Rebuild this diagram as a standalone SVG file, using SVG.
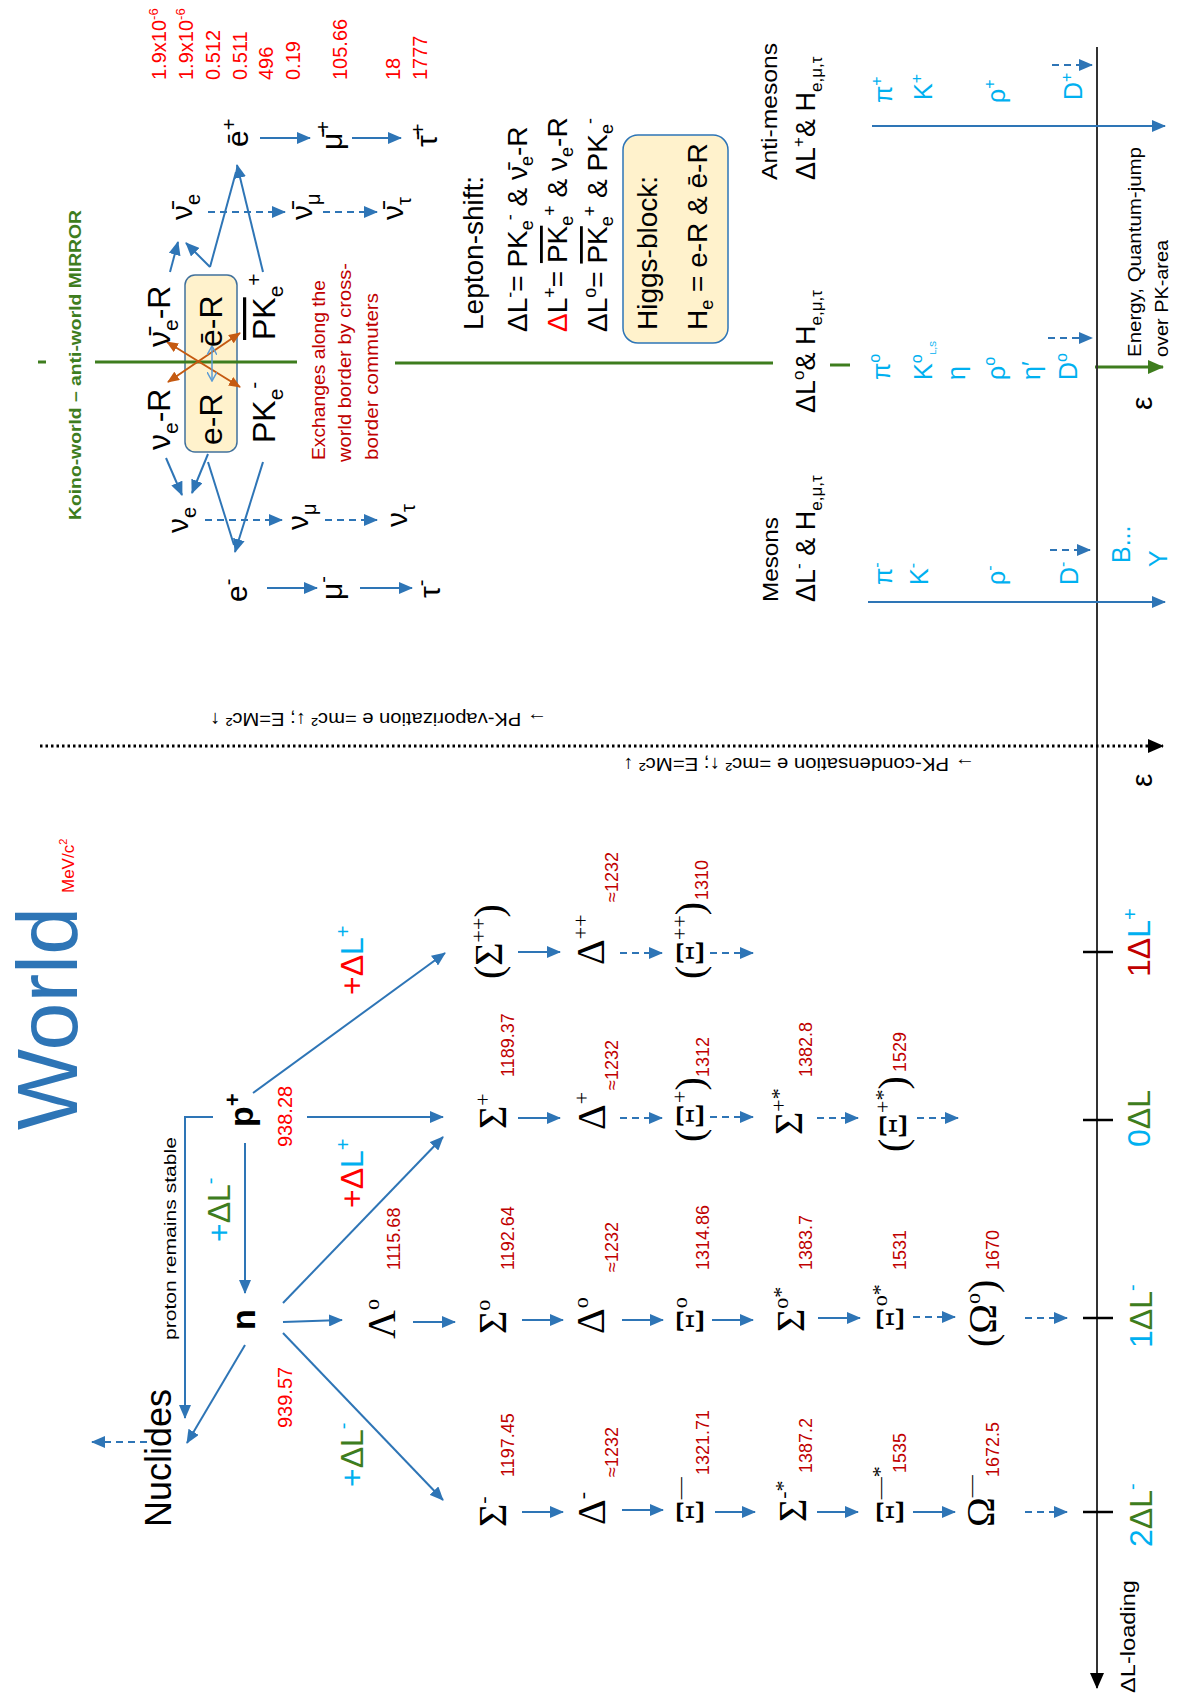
<svg xmlns="http://www.w3.org/2000/svg" width="1179" height="1699" viewBox="0 0 1179 1699">
<defs>
<marker id="ab" markerUnits="userSpaceOnUse" markerWidth="14" markerHeight="12" refX="13" refY="6" orient="auto"><path d="M0,0 L14,6 L0,12 z" fill="#2E75B6"/></marker>
<marker id="ag" markerUnits="userSpaceOnUse" markerWidth="16" markerHeight="14" refX="15" refY="7" orient="auto"><path d="M0,0 L16,7 L0,14 z" fill="#3E7D1E"/></marker>
<marker id="ak" markerUnits="userSpaceOnUse" markerWidth="16" markerHeight="14" refX="15" refY="7" orient="auto"><path d="M0,0 L16,7 L0,14 z" fill="#000"/></marker>
<marker id="ao" markerUnits="userSpaceOnUse" markerWidth="12" markerHeight="10" refX="11" refY="5" orient="auto-start-reverse"><path d="M0,0 L12,5 L0,10 z" fill="#C55A11"/></marker>
<marker id="ac" markerUnits="userSpaceOnUse" markerWidth="10" markerHeight="10" refX="9" refY="5" orient="auto-start-reverse"><path d="M0,0 L9,5 L0,10" fill="none" stroke="#5B9BD5" stroke-width="1.5"/></marker>
</defs>
<style>
text{font-family:"Liberation Sans",Arial,sans-serif}
.sf{font-family:"Liberation Serif","DejaVu Serif",serif}
.b{stroke:#2E75B6;stroke-width:2;fill:none;marker-end:url(#ab)}
.bn{stroke:#2E75B6;stroke-width:2;fill:none}
.d{stroke-dasharray:7 5}
.rm{fill:#C00000;font-size:18px}
.tm{fill:#FF0000;font-size:20px}
.cy{fill:#00B0F0}
.gr{fill:#3E7D1E}
.box{fill:#FFF2CC;stroke:#41719C;stroke-width:1.5}
.tick{stroke:#000;stroke-width:2.5}
</style>
<rect width="1179" height="1699" fill="#fff"/>

<!-- boxes (background) -->
<rect id="eR-box" class="box" x="185" y="275" width="52" height="177" rx="10"/>
<rect id="higgs-box" class="box" x="623" y="135" width="105" height="208" rx="15" style="stroke:#2E75B6"/>

<!-- connectors -->
<g id="connectors">
 <g stroke="#3E7D1E" stroke-width="3" fill="none">
  <line x1="38" y1="362" x2="46" y2="362"/>
  <line x1="95" y1="362" x2="297" y2="362"/>
  <line x1="395" y1="363" x2="773" y2="363"/>
  <line x1="830" y1="365" x2="850" y2="365"/>
  <line x1="1095" y1="367" x2="1163" y2="367" marker-end="url(#ag)"/>
 </g>
 <line x1="1097" y1="47" x2="1097" y2="1688" stroke="#333" stroke-width="2" marker-end="url(#ak)"/>
 <line x1="40" y1="746" x2="1163" y2="746" stroke="#000" stroke-width="3" stroke-dasharray="2.5 3" marker-end="url(#ak)"/>
 <line class="tick" x1="1083" y1="952" x2="1113" y2="952"/>
 <line class="tick" x1="1083" y1="1120" x2="1113" y2="1120"/>
 <line class="tick" x1="1083" y1="1318" x2="1113" y2="1318"/>
 <line class="tick" x1="1083" y1="1512" x2="1113" y2="1512"/>
 <line class="b" x1="260" y1="138" x2="310" y2="138"/>
 <line class="b" x1="352" y1="138" x2="401" y2="138"/>
 <line class="b d" x1="208" y1="212" x2="285" y2="212"/>
 <line class="b d" x1="323" y1="212" x2="377" y2="212"/>
 <line class="b" x1="170" y1="272" x2="178" y2="242"/>
 <line class="b" x1="210" y1="267" x2="186" y2="243"/>
 <line class="bn" x1="210" y1="267" x2="236" y2="172"/>
 <line class="b" x1="263" y1="272" x2="237" y2="165"/>
 <line class="b" x1="166" y1="458" x2="182" y2="495"/>
 <line class="b" x1="208" y1="454" x2="192" y2="493"/>
 <line class="bn" x1="208" y1="462" x2="234" y2="545"/>
 <line class="b" x1="263" y1="462" x2="235" y2="552"/>
 <line class="b" x1="267" y1="588" x2="317" y2="588"/>
 <line class="b" x1="360" y1="588" x2="412" y2="588"/>
 <line class="b d" x1="205" y1="520" x2="282" y2="520"/>
 <line class="b d" x1="325" y1="520" x2="377" y2="520"/>
 <line x1="167" y1="342" x2="240" y2="387" stroke="#C55A11" stroke-width="2" marker-start="url(#ao)" marker-end="url(#ao)"/>
 <line x1="240" y1="333" x2="168" y2="382" stroke="#C55A11" stroke-width="2" marker-start="url(#ao)" marker-end="url(#ao)"/>
 <line x1="212" y1="346" x2="212" y2="381" stroke="#5B9BD5" stroke-width="1.5" marker-start="url(#ac)" marker-end="url(#ac)"/>
 <line class="b" x1="872" y1="126" x2="1165" y2="126"/>
 <line class="b d" x1="1052" y1="65" x2="1092" y2="65"/>
 <line class="b d" x1="1048" y1="338" x2="1092" y2="338"/>
 <line class="b d" x1="1050" y1="550" x2="1090" y2="550"/>
 <line class="b" x1="868" y1="602" x2="1165" y2="602"/>
 <line class="b" x1="245" y1="1143" x2="245" y2="1293"/>
 <polyline class="b" points="213,1117 185,1117 185,1418"/>
 <line class="b" x1="307" y1="1117" x2="443" y2="1117"/>
 <line class="b" x1="253" y1="1093" x2="445" y2="953"/>
 <line class="b" x1="283" y1="1303" x2="443" y2="1137"/>
 <line class="b" x1="283" y1="1322" x2="342" y2="1320"/>
 <line class="b" x1="245" y1="1345" x2="187" y2="1443"/>
 <line class="b" x1="283" y1="1333" x2="443" y2="1500"/>
 <line class="b d" x1="147" y1="1442" x2="92" y2="1442"/>
 <line class="b" x1="518" y1="952" x2="560" y2="952"/>
 <line class="b d" x1="620" y1="953" x2="662" y2="953"/>
 <line class="b d" x1="710" y1="953" x2="753" y2="953"/>
 <line class="b" x1="518" y1="1118" x2="560" y2="1118"/>
 <line class="b d" x1="620" y1="1118" x2="662" y2="1118"/>
 <line class="b d" x1="710" y1="1117" x2="753" y2="1117"/>
 <line class="b d" x1="817" y1="1118" x2="858" y2="1118"/>
 <line class="b d" x1="917" y1="1118" x2="958" y2="1118"/>
 <line class="b" x1="413" y1="1322" x2="455" y2="1322"/>
 <line class="b" x1="522" y1="1320" x2="563" y2="1320"/>
 <line class="b" x1="622" y1="1320" x2="663" y2="1320"/>
 <line class="b" x1="712" y1="1320" x2="753" y2="1320"/>
 <line class="b" x1="818" y1="1318" x2="860" y2="1318"/>
 <line class="b d" x1="913" y1="1317" x2="955" y2="1317"/>
 <line class="b d" x1="1025" y1="1318" x2="1067" y2="1318"/>
 <line class="b" x1="522" y1="1512" x2="563" y2="1512"/>
 <line class="b" x1="622" y1="1510" x2="663" y2="1510"/>
 <line class="b" x1="715" y1="1512" x2="755" y2="1512"/>
 <line class="b" x1="817" y1="1512" x2="858" y2="1512"/>
 <line class="b" x1="913" y1="1512" x2="955" y2="1512"/>
 <line class="b d" x1="1025" y1="1512" x2="1067" y2="1512"/>
</g>

<g id="lepton-masses">
 <text class="tm" transform="translate(166 80) rotate(-90)">1.9x10<tspan dy="-8" font-size="13">-6</tspan></text>
 <text class="tm" transform="translate(193 80) rotate(-90)">1.9x10<tspan dy="-8" font-size="13">-6</tspan></text>
 <text class="tm" transform="translate(220 80) rotate(-90)">0.512</text>
 <text class="tm" transform="translate(247 80) rotate(-90)">0.511</text>
 <text class="tm" transform="translate(273 80) rotate(-90)">496</text>
 <text class="tm" transform="translate(300 80) rotate(-90)">0.19</text>
 <text class="tm" transform="translate(347 80) rotate(-90)">105.66</text>
 <text class="tm" transform="translate(400 80) rotate(-90)">18</text>
 <text class="tm" transform="translate(427 80) rotate(-90)">1777</text>
</g>

<g id="leptons" font-size="30">
 <g id="e-bar"><text transform="translate(248 147) rotate(-90)">ē<tspan dy="-12" font-size="20">+</tspan></text></g>
 <g id="mu-bar"><text transform="translate(342 150) rotate(-90)">μ̄<tspan dy="-12" font-size="20">+</tspan></text></g>
 <g id="tau-bar"><text transform="translate(437 147) rotate(-90)">τ̄<tspan dy="-12" font-size="20">+</tspan></text></g>
 <g id="nue-bar"><text transform="translate(192 220) rotate(-90)">ν̄<tspan dy="8" font-size="20">e</tspan></text></g>
 <g id="numu-bar"><text transform="translate(312 220) rotate(-90)">ν̄<tspan dy="8" font-size="20">μ</tspan></text></g>
 <g id="nutau-bar"><text transform="translate(403 220) rotate(-90)">ν̄<tspan dy="8" font-size="20">τ</tspan></text></g>
 <g id="nue"><text transform="translate(188 533) rotate(-90)">ν<tspan dy="8" font-size="20">e</tspan></text></g>
 <g id="numu"><text transform="translate(308 530) rotate(-90)">ν<tspan dy="8" font-size="20">μ</tspan></text></g>
 <g id="nutau"><text transform="translate(407 527) rotate(-90)">ν<tspan dy="8" font-size="20">τ</tspan></text></g>
 <g id="e-"><text transform="translate(247 602) rotate(-90)">e<tspan dy="-12" font-size="20">-</tspan></text></g>
 <g id="mu-"><text transform="translate(342 600) rotate(-90)">μ<tspan dy="-12" font-size="20">-</tspan></text></g>
 <g id="tau-"><text transform="translate(440 598) rotate(-90)">τ<tspan dy="-12" font-size="20">-</tspan></text></g>
</g>

<g id="border" font-size="32">
 <g id="nue-bar-R"><text transform="translate(170 347) rotate(-90)">ν̄<tspan dy="8" font-size="21">e</tspan><tspan dy="-8">-R</tspan></text></g>
 <g id="nue-R"><text transform="translate(170 450) rotate(-90)">ν<tspan dy="8" font-size="21">e</tspan><tspan dy="-8">-R</tspan></text></g>
 <g id="ebar-R"><text transform="translate(222 347) rotate(-90)">ē-R</text></g>
 <g id="e-R"><text transform="translate(222 445) rotate(-90)">e-R</text></g>
 <g id="PKbar"><text transform="translate(275 340) rotate(-90)"><tspan text-decoration="overline">PK</tspan><tspan dy="8" font-size="21">e</tspan><tspan dy="-22" font-size="21">+</tspan></text></g>
 <g id="PK"><text transform="translate(275 443) rotate(-90)">PK<tspan dy="8" font-size="21">e</tspan><tspan dy="-22" font-size="21">-</tspan></text></g>
</g>

<text transform="translate(81 520) rotate(-90)" font-size="17" font-weight="bold" class="gr" textLength="310" lengthAdjust="spacingAndGlyphs">Koino-world – anti-world MIRROR</text>
<g id="exchanges" font-size="18">
 <text transform="translate(325 460) rotate(-90)" style="fill:#C00000" textLength="180" lengthAdjust="spacingAndGlyphs">Exchanges along the</text>
 <text transform="translate(351 462) rotate(-90)" style="fill:#C00000" textLength="199" lengthAdjust="spacingAndGlyphs">world border by cross-</text>
 <text transform="translate(378 460) rotate(-90)" style="fill:#C00000" textLength="167" lengthAdjust="spacingAndGlyphs">border commuters</text>
</g>

<g id="lepton-shift" font-size="28">
 <text transform="translate(483 330) rotate(-90)">Lepton-shift:</text>
 <text transform="translate(527 332) rotate(-90)">ΔL<tspan dy="-11" font-size="18">-</tspan><tspan dy="11">= PK</tspan><tspan dy="6" font-size="18">e</tspan><tspan dy="-17" font-size="18">-</tspan><tspan dy="11"> &amp; ν̄</tspan><tspan dy="6" font-size="18">e</tspan><tspan dy="-6">-R</tspan></text>
 <text transform="translate(567 332) rotate(-90)"><tspan style="fill:#FF0000">Δ</tspan>L<tspan dy="-11" font-size="18">+</tspan><tspan dy="11">= </tspan><tspan text-decoration="overline">PK</tspan><tspan dy="6" font-size="18">e</tspan><tspan dy="-17" font-size="18">+</tspan><tspan dy="11"> &amp; ν</tspan><tspan dy="6" font-size="18">e</tspan><tspan dy="-6">-R</tspan></text>
 <text transform="translate(607 332) rotate(-90)">ΔL<tspan dy="-11" font-size="18">o</tspan><tspan dy="11">= </tspan><tspan text-decoration="overline">PK</tspan><tspan dy="6" font-size="18">e</tspan><tspan dy="-17" font-size="18">+</tspan><tspan dy="11"> &amp; PK</tspan><tspan dy="6" font-size="18">e</tspan><tspan dy="-17" font-size="18">-</tspan></text>
</g>
<g id="higgs-block" font-size="28">
 <text transform="translate(657 330) rotate(-90)">Higgs-block:</text>
 <text transform="translate(707 330) rotate(-90)">H<tspan dy="6" font-size="18">e</tspan><tspan dy="-6"> = e-R &amp; ē-R</tspan></text>
</g>

<g id="meson-labels" font-size="27">
 <text transform="translate(777 180) rotate(-90)" font-size="22" textLength="137" lengthAdjust="spacingAndGlyphs">Anti-mesons</text>
 <text transform="translate(815 180) rotate(-90)">ΔL<tspan dy="-11" font-size="17">+</tspan><tspan dy="11">&amp; H</tspan><tspan dy="7" font-size="17">e,μ,τ</tspan></text>
 <text transform="translate(815 413) rotate(-90)">ΔL<tspan dy="-11" font-size="17">o</tspan><tspan dy="11">&amp; H</tspan><tspan dy="7" font-size="17">e,μ,τ</tspan></text>
 <text transform="translate(778 602) rotate(-90)" font-size="22" textLength="85" lengthAdjust="spacingAndGlyphs">Mesons</text>
 <text transform="translate(815 602) rotate(-90)">ΔL<tspan dy="-11" font-size="17">-</tspan><tspan dy="11"> &amp; H</tspan><tspan dy="7" font-size="17">e,μ,τ</tspan></text>
</g>
<g id="mesons" font-size="25">
 <text class="cy" transform="translate(892 103) rotate(-90)">π<tspan dy="-10" font-size="16">+</tspan></text>
 <text class="cy" transform="translate(932 100) rotate(-90)">K<tspan dy="-10" font-size="16">+</tspan></text>
 <text class="cy" transform="translate(1005 103) rotate(-90)">ρ<tspan dy="-10" font-size="16">+</tspan></text>
 <text class="cy" transform="translate(1082 100) rotate(-90)">D<tspan dy="-10" font-size="16">+</tspan></text>
 <text class="cy" transform="translate(890 380) rotate(-90)">π<tspan dy="-10" font-size="16">o</tspan></text>
 <text class="cy" transform="translate(932 380) rotate(-90)">K<tspan dy="-10" font-size="16">o</tspan><tspan dy="14" font-size="9">L,S</tspan></text>
 <text class="cy" transform="translate(965 380) rotate(-90)">η</text>
 <text class="cy" transform="translate(1005 380) rotate(-90)">ρ<tspan dy="-10" font-size="16">o</tspan></text>
 <text class="cy" transform="translate(1040 380) rotate(-90)">η′</text>
 <text class="cy" transform="translate(1077 380) rotate(-90)">D<tspan dy="-10" font-size="16">o</tspan></text>
 <text class="cy" transform="translate(892 585) rotate(-90)">π<tspan dy="-10" font-size="16">-</tspan></text>
 <text class="cy" transform="translate(928 585) rotate(-90)">K<tspan dy="-10" font-size="16">-</tspan></text>
 <text class="cy" transform="translate(1005 585) rotate(-90)">ρ<tspan dy="-10" font-size="16">-</tspan></text>
 <text class="cy" transform="translate(1078 585) rotate(-90)">D<tspan dy="-10" font-size="16">-</tspan></text>
 <text class="cy" transform="translate(1130 563) rotate(-90)">B...</text>
 <text class="cy" transform="translate(1167 567) rotate(-90)">Υ</text>
</g>
<g id="energy-axis">
 <text transform="translate(1141 357) rotate(-90)" font-size="19" textLength="210" lengthAdjust="spacingAndGlyphs">Energy, Quantum-jump</text>
 <text transform="translate(1168 357) rotate(-90)" font-size="19" textLength="117" lengthAdjust="spacingAndGlyphs">over PK-area</text>
 <text transform="translate(1152 410) rotate(-90)" font-size="30">ε</text>
 <text transform="translate(1152 787) rotate(-90)" font-size="30">ε</text>
</g>
<text transform="translate(547 713) rotate(180)" font-size="19" textLength="337" lengthAdjust="spacingAndGlyphs">→ PK-vaporization e =mc² ↓; E=Mc² ↑</text>
<text transform="translate(975 758) rotate(180)" font-size="19" textLength="352" lengthAdjust="spacingAndGlyphs">→ PK-condensation e =mc² ↑; E=Mc² ↓</text>

<text transform="translate(77 1130) rotate(-90)" font-size="86" style="fill:#2E75B6">World</text>
<text transform="translate(74 893) rotate(-90)" font-size="17" style="fill:#FF0000">MeV/c<tspan dy="-7" font-size="11">2</tspan></text>
<text transform="translate(176 1340) rotate(-90)" font-size="17" textLength="203" lengthAdjust="spacingAndGlyphs">proton remains stable</text>

<g id="p"><text transform="translate(253 1127) rotate(-90)" font-size="34" font-weight="bold">p<tspan dy="-13" font-size="22">+</tspan></text></g>
<g id="n"><text transform="translate(255 1330) rotate(-90)" font-size="34" font-weight="bold">n</text></g>
<g id="nuclides"><text transform="translate(171 1527) rotate(-90)" font-size="36">Nuclides</text></g>
<text class="tm" transform="translate(292 1147) rotate(-90)">938.28</text>
<text class="tm" transform="translate(292 1428) rotate(-90)">939.57</text>

<g id="dl-labels" font-size="32">
 <text transform="translate(363 995) rotate(-90)"><tspan style="fill:#FF0000">+Δ</tspan><tspan style="fill:#00B0F0">L</tspan><tspan dy="-13" font-size="20" style="fill:#00B0F0">+</tspan></text>
 <text transform="translate(363 1208) rotate(-90)"><tspan style="fill:#FF0000">+Δ</tspan><tspan style="fill:#00B0F0">L</tspan><tspan dy="-13" font-size="20" style="fill:#00B0F0">+</tspan></text>
 <text transform="translate(230 1242) rotate(-90)"><tspan style="fill:#00B0F0">+</tspan><tspan style="fill:#3E7D1E">ΔL</tspan><tspan dy="-13" font-size="20" style="fill:#00B0F0">-</tspan></text>
 <text transform="translate(363 1487) rotate(-90)"><tspan style="fill:#00B0F0">+</tspan><tspan style="fill:#3E7D1E">ΔL</tspan><tspan dy="-13" font-size="20" style="fill:#00B0F0">-</tspan></text>
</g>

<g id="baryons" font-size="40">
 <g id="Lambda0"><text class="sf" transform="translate(395 1339) rotate(-90)">Λ<tspan dy="-16" font-size="22">o</tspan></text></g>
 <g id="Sigma++"><text class="sf" transform="translate(502 979) rotate(-90)">(Σ<tspan dy="-16" font-size="22">++</tspan><tspan dy="16">)</tspan></text></g>
 <g id="Delta++"><text class="sf" transform="translate(604 965) rotate(-90)">Δ<tspan dy="-16" font-size="22">++</tspan></text></g>
 <g id="Xi++"><text class="sf" transform="translate(703 979) rotate(-90)">(Ξ<tspan dy="-16" font-size="22">++</tspan><tspan dy="16">)</tspan></text></g>
 <g id="Sigma+"><text class="sf" transform="translate(506 1129) rotate(-90)">Σ<tspan dy="-16" font-size="22">+</tspan></text></g>
 <g id="Delta+"><text class="sf" transform="translate(605 1130) rotate(-90)">Δ<tspan dy="-16" font-size="22">+</tspan></text></g>
 <g id="Xi+"><text class="sf" transform="translate(703 1142) rotate(-90)">(Ξ<tspan dy="-16" font-size="22">+</tspan><tspan dy="16">)</tspan></text></g>
 <g id="Sigma+s"><text class="sf" transform="translate(802 1135) rotate(-90)">Σ<tspan dy="-16" font-size="22">+*</tspan></text></g>
 <g id="Xi+s"><text class="sf" transform="translate(906 1152) rotate(-90)">(Ξ<tspan dy="-16" font-size="22">+*</tspan><tspan dy="16">)</tspan></text></g>
 <g id="Sigma0"><text class="sf" transform="translate(506 1334) rotate(-90)">Σ<tspan dy="-16" font-size="22">o</tspan></text></g>
 <g id="Delta0"><text class="sf" transform="translate(604 1334) rotate(-90)">Δ<tspan dy="-16" font-size="22">o</tspan></text></g>
 <g id="Xi0"><text class="sf" transform="translate(703 1334) rotate(-90)">Ξ<tspan dy="-16" font-size="22">o</tspan></text></g>
 <g id="Sigma0s"><text class="sf" transform="translate(804 1332) rotate(-90)">Σ<tspan dy="-16" font-size="22">o*</tspan></text></g>
 <g id="Xi0s"><text class="sf" transform="translate(903 1332) rotate(-90)">Ξ<tspan dy="-16" font-size="22">o*</tspan></text></g>
 <g id="Omega0"><text class="sf" transform="translate(996 1347) rotate(-90)">(Ω<tspan dy="-16" font-size="22">o</tspan><tspan dy="16">)</tspan></text></g>
 <g id="Sigma-"><text class="sf" transform="translate(506 1527) rotate(-90)">Σ<tspan dy="-16" font-size="22">-</tspan></text></g>
 <g id="Delta-"><text class="sf" transform="translate(605 1525) rotate(-90)">Δ<tspan dy="-16" font-size="22">-</tspan></text></g>
 <g id="Xi-"><text class="sf" transform="translate(703 1525) rotate(-90)">Ξ<tspan dy="-16" font-size="22">—</tspan></text></g>
 <g id="Sigma-s"><text class="sf" transform="translate(806 1522) rotate(-90)">Σ<tspan dy="-16" font-size="22">-*</tspan></text></g>
 <g id="Xi-s"><text class="sf" transform="translate(903 1525) rotate(-90)">Ξ<tspan dy="-16" font-size="22">—*</tspan></text></g>
 <g id="Omega-"><text class="sf" transform="translate(994 1527) rotate(-90)">Ω<tspan dy="-16" font-size="22">—</tspan></text></g>
</g>

<g id="baryon-masses">
 <text class="rm" transform="translate(400 1270) rotate(-90)">1115.68</text>
 <text class="rm" transform="translate(514 1077) rotate(-90)">1189.37</text>
 <text class="rm" transform="translate(618 902) rotate(-90)">≈1232</text>
 <text class="rm" transform="translate(708 900) rotate(-90)">1310</text>
 <text class="rm" transform="translate(618 1090) rotate(-90)">≈1232</text>
 <text class="rm" transform="translate(709 1077) rotate(-90)">1312</text>
 <text class="rm" transform="translate(812 1077) rotate(-90)">1382.8</text>
 <text class="rm" transform="translate(906 1072) rotate(-90)">1529</text>
 <text class="rm" transform="translate(514 1270) rotate(-90)">1192.64</text>
 <text class="rm" transform="translate(618 1272) rotate(-90)">≈1232</text>
 <text class="rm" transform="translate(709 1270) rotate(-90)">1314.86</text>
 <text class="rm" transform="translate(812 1270) rotate(-90)">1383.7</text>
 <text class="rm" transform="translate(906 1270) rotate(-90)">1531</text>
 <text class="rm" transform="translate(999 1270) rotate(-90)">1670</text>
 <text class="rm" transform="translate(514 1477) rotate(-90)">1197.45</text>
 <text class="rm" transform="translate(618 1477) rotate(-90)">≈1232</text>
 <text class="rm" transform="translate(709 1475) rotate(-90)">1321.71</text>
 <text class="rm" transform="translate(812 1473) rotate(-90)">1387.2</text>
 <text class="rm" transform="translate(906 1473) rotate(-90)">1535</text>
 <text class="rm" transform="translate(999 1477) rotate(-90)">1672.5</text>
</g>

<g id="axis-labels" font-size="32">
 <text transform="translate(1150 977) rotate(-90)"><tspan style="fill:#C00000">1Δ</tspan><tspan style="fill:#00B0F0">L</tspan><tspan dy="-13" font-size="20" style="fill:#00B0F0">+</tspan></text>
 <text transform="translate(1150 1147) rotate(-90)"><tspan style="fill:#00B0F0">0</tspan><tspan style="fill:#3E7D1E">ΔL</tspan></text>
 <text transform="translate(1152 1348) rotate(-90)"><tspan style="fill:#00B0F0">1</tspan><tspan style="fill:#3E7D1E">ΔL</tspan><tspan dy="-13" font-size="20" style="fill:#00B0F0">-</tspan></text>
 <text transform="translate(1152 1547) rotate(-90)"><tspan style="fill:#00B0F0">2</tspan><tspan style="fill:#3E7D1E">ΔL</tspan><tspan dy="-13" font-size="20" style="fill:#00B0F0">-</tspan></text>
 <text transform="translate(1135 1693) rotate(-90)" font-size="20" textLength="113" lengthAdjust="spacingAndGlyphs">ΔL-loading</text>
</g>
</svg>
